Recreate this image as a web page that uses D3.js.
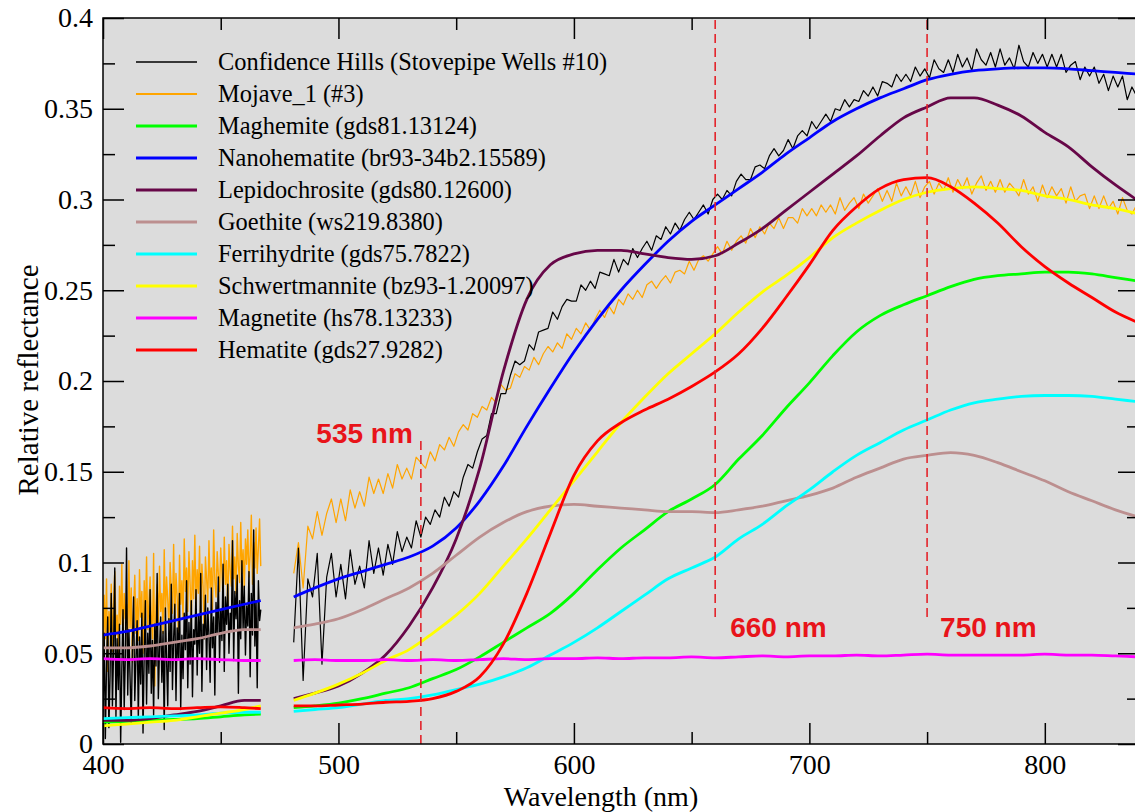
<!DOCTYPE html>
<html lang="en">
<head>
<meta charset="UTF-8">
<title>Relative reflectance</title>
<script src="https://d3js.org/d3.v7.min.js"></script>
<style>
  body { margin: 0; background: #fff; }
  .tick line { stroke: #000; stroke-width: 1.5px; }
  .axis path.domain { display: none; }
</style>
</head>
<body>
<div id="chart"></div>
<script>
// wavelength grids (nm) -- the spectra have a gap between ~467 and ~481 nm
const wlLeft = [400, 410, 420, 430, 440, 450, 460, 467];
const wlRight = [481, 490, 500, 510, 520, 530, 540, 550, 560, 570, 580, 590, 600, 610, 620, 630,
  640, 650, 660, 670, 680, 690, 700, 710, 720, 730, 740, 750, 760, 770, 780, 790, 800, 810, 820, 830, 840];
const wlNoisyLeft = d3.range(400, 467.25, 0.5);  // 400..467 step 0.5
const wlNoisyRight = d3.range(481, 840, 2);      // 481..839 step 2

// field spectra (noisy)
const confidenceLeft = [
  .012,.061,.003,.044,.070,.009,.038,.083,.021,.052,
  .097,.015,.058,.030,.066,.001,.041,.074,.019,.049,
  .108,.027,.063,.036,.011,.055,.081,.024,.047,.068,
  .014,.059,.033,.072,.006,.050,.079,.022,.061,.039,
  .085,.028,.057,.016,.066,.043,.094,.025,.053,.070,
  .034,.062,.008,.075,.046,.021,.069,.040,.088,.030,
  .058,.077,.024,.064,.047,.083,.019,.060,.036,.072,
  .052,.090,.031,.067,.044,.079,.026,.063,.055,.085,
  .038,.071,.050,.094,.029,.066,.058,.082,.041,.075,
  .060,.034,.086,.053,.070,.027,.078,.061,.092,.045,
  .074,.057,.099,.040,.081,.066,.088,.050,.072,.062,
  .112,.046,.084,.069,.093,.028,.079,.058,.101,.063,
  .087,.049,.076,.065,.095,.037,.083,.060,.118,.054,
  .079,.031,.090,.068,.074];
const confidenceRight = [
  .056,.108,.035,.091,.081,.105,.044,.092,.105,.081,
  .099,.080,.107,.088,.098,.086,.112,.094,.108,.093,
  .110,.099,.117,.106,.114,.108,.123,.114,.125,.121,
  .129,.125,.136,.131,.139,.136,.147,.154,.152,.161,
  .168,.170,.182,.182,.193,.193,.203,.211,.209,.211,
  .220,.217,.227,.228,.229,.238,.234,.241,.245,.244,
  .244,.253,.250,.255,.251,.260,.259,.258,.267,.260,
  .267,.264,.273,.268,.273,.277,.272,.280,.278,.285,
  .281,.287,.283,.289,.293,.289,.293,.297,.292,.300,
  .303,.300,.305,.302,.310,.314,.311,.311,.318,.319,
  .317,.324,.328,.324,.327,.333,.328,.335,.338,.335,
  .343,.339,.343,.347,.343,.350,.349,.355,.351,.355,
  .354,.360,.357,.362,.357,.365,.364,.362,.369,.365,
  .369,.365,.373,.368,.372,.367,.377,.372,.370,.377,
  .370,.380,.373,.378,.371,.383,.377,.374,.381,.373,
  .383,.374,.378,.372,.385,.376,.373,.381,.375,.380,
  .373,.380,.373,.380,.370,.374,.376,.366,.373,.368,
  .373,.364,.369,.360,.368,.362,.368,.355,.362,.357];
const mojaveLeft = [
  .045,.082,.058,.091,.040,.073,.062,.088,.051,.079,
  .095,.060,.071,.048,.087,.066,.099,.055,.083,.069,
  .077,.052,.101,.064,.086,.045,.074,.093,.061,.080,
  .057,.096,.070,.084,.050,.090,.067,.103,.063,.078,
  .092,.071,.058,.105,.032,.076,.088,.066,.098,.073,
  .083,.061,.107,.070,.092,.079,.064,.100,.085,.072,
  .110,.068,.094,.081,.060,.104,.077,.090,.069,.113,
  .084,.097,.073,.106,.088,.066,.101,.080,.115,.076,
  .096,.083,.109,.071,.099,.087,.058,.103,.091,.078,
  .112,.086,.097,.074,.118,.090,.081,.106,.093,.084,
  .108,.095,.079,.114,.088,.101,.072,.110,.096,.087,
  .120,.091,.103,.083,.116,.098,.089,.122,.094,.107,
  .085,.113,.099,.118,.092,.104,.126,.088,.111,.097,
  .119,.094,.108,.124,.098];
const mojaveRight = [
  .094,.111,.086,.120,.113,.128,.115,.127,.135,.122,
  .135,.123,.140,.130,.139,.131,.147,.138,.146,.138,
  .149,.141,.154,.146,.152,.146,.158,.155,.152,.161,
  .156,.165,.162,.169,.164,.172,.176,.173,.182,.180,
  .186,.184,.191,.188,.198,.195,.196,.204,.202,.208,
  .206,.213,.209,.215,.219,.216,.221,.218,.226,.223,
  .229,.226,.232,.228,.234,.239,.235,.241,.237,.245,
  .242,.248,.245,.250,.246,.253,.255,.251,.255,.258,
  .254,.260,.261,.259,.266,.261,.267,.269,.266,.270,
  .274,.270,.277,.272,.277,.280,.276,.284,.279,.285,
  .281,.287,.284,.290,.284,.290,.290,.287,.295,.291,
  .295,.291,.297,.293,.297,.292,.301,.294,.298,.301,
  .295,.303,.298,.302,.306,.299,.305,.299,.309,.302,
  .307,.302,.310,.301,.307,.310,.303,.309,.305,.312,
  .304,.311,.306,.312,.303,.309,.313,.305,.310,.304,
  .311,.304,.309,.306,.302,.311,.303,.307,.299,.308,
  .301,.307,.302,.306,.298,.307,.299,.302,.303,.295,
  .302,.295,.302,.295,.299,.292,.301,.294,.292,.297];

// library spectra (smooth)
const maghemiteLeft = [.012,.0125,.013,.0135,.014,.015,.016,.0165];
const maghemiteRight = [.020,.021,.0225,.025,.028,.031,.036,.041,.048,.056,.064,.072,.083,.096,.108,.118,
  .128,.135,.143,.157,.170,.185,.199,.214,.227,.236,.242,.247,.252,.256,.258,.259,.260,.260,.259,.257,.255];
const nanohematiteLeft = [.060,.062,.065,.068,.071,.074,.077,.079];
const nanohematiteRight = [.081,.086,.091,.095,.099,.103,.109,.119,.134,.153,.175,.196,.216,.234,.250,.264,
  .277,.288,.297,.306,.315,.325,.334,.343,.350,.356,.361,.366,.369,.371,.372,.3725,.3725,.372,.371,.370,.369];
const lepidocrociteLeft = [.013,.013,.014,.016,.018,.021,.024,.024];
const lepidocrociteRight = [.025,.028,.032,.039,.049,.065,.086,.113,.152,.205,.245,.264,.270,.272,.272,.270,
  .268,.267,.269,.276,.284,.294,.304,.314,.324,.335,.345,.351,.356,.356,.352,.346,.337,.329,.318,.308,.299];
const goethiteLeft = [.053,.053,.054,.056,.058,.061,.063,.063];
const goethiteRight = [.064,.066,.069,.074,.080,.086,.094,.104,.114,.122,.128,.131,.132,.131,.130,.129,
  .128,.128,.1275,.129,.131,.134,.137,.141,.147,.152,.157,.159,.1605,.159,.155,.150,.145,.139,.134,.129,.125];
const ferrihydriteLeft = [.014,.0145,.015,.0155,.016,.017,.0175,.0175];
const ferrihydriteRight = [.018,.019,.020,.022,.024,.025,.027,.030,.033,.037,.042,.049,.056,.064,.073,.082,
  .091,.097,.103,.113,.121,.131,.140,.150,.159,.166,.173,.1785,.184,.188,.190,.1915,.192,.192,.1915,.190,.1885];
const schwertmanniteLeft = [.010,.011,.012,.013,.015,.017,.019,.021];
const schwertmanniteRight = [.024,.028,.033,.039,.046,.052,.061,.071,.083,.098,.113,.129,.145,.161,.177,.191,
  .204,.215,.226,.238,.249,.258,.268,.279,.287,.294,.300,.304,.306,.307,.306,.305,.302,.300,.297,.295,.292];
const magnetiteLeft = [.047,.0465,.047,.0465,.047,.0465,.046,.046];
const magnetiteRight = [.046,.0465,.046,.046,.0465,.046,.0465,.046,.0465,.047,.0465,.047,.047,.0475,.047,.0475,
  .0475,.048,.0475,.048,.0485,.048,.0485,.0485,.049,.0485,.049,.0495,.049,.049,.049,.049,.0495,.049,.049,.0485,.048];
const hematiteLeft = [.020,.0195,.020,.0195,.020,.0205,.020,.0195];
const hematiteRight = [.021,.021,.0215,.022,.023,.0235,.025,.029,.037,.055,.083,.116,.148,.167,.177,.184,
  .190,.197,.205,.215,.229,.246,.264,.283,.296,.306,.311,.312,.307,.298,.287,.274,.263,.254,.246,.238,.232];

const seriesNames = [
  "Confidence Hills (Stovepipe Wells #10)", "Mojave_1 (#3)", "Maghemite (gds81.13124)",
  "Nanohematite (br93-34b2.15589)", "Lepidochrosite (gds80.12600)", "Goethite (ws219.8380)",
  "Ferrihydrite (gds75.7822)", "Schwertmannite (bz93-1.20097)", "Magnetite (hs78.13233)",
  "Hematite (gds27.9282)"];
const seriesColors = ["#000000", "#ffa500", "#00ff00", "#0000ff", "#670748", "#bc8f8f",
  "#00ffff", "#ffff00", "#ff00ff", "#ff0000"];

const yTicks = [0, 0.05, 0.1, 0.15, 0.2, 0.25, 0.3, 0.35, 0.4];
const yTickLabels = ["0", "0.05", "0.1", "0.15", "0.2", "0.25", "0.3", "0.35", "0.4"];
const yMinorTicks = [0.025, 0.075, 0.125, 0.175, 0.225, 0.275, 0.325, 0.375];
const xTicks = [400, 500, 600, 700, 800];
const xMinorTicks = [450, 550, 650, 750];

const markerNm = [535, 660, 750];
const markerLabels = ["535 nm", "660 nm", "750 nm"];

// ---- layout
const width = 1135, height = 812;
const plot = { left: 103, top: 18, right: 1139, bottom: 744 };
const serif = '"Liberation Serif", "DejaVu Serif", "Times New Roman", serif';
const sans = '"Liberation Sans", Arial, "DejaVu Sans", sans-serif';

const svg = d3.select("#chart").append("svg")
  .attr("width", width).attr("height", height);

const x = d3.scaleLinear().domain([400, 840]).range([plot.left, plot.right]);
const y = d3.scaleLinear().domain([0, 0.4]).range([plot.bottom, plot.top]);

svg.append("defs").append("clipPath").attr("id", "clip")
  .append("rect")
  .attr("x", plot.left).attr("y", plot.top)
  .attr("width", plot.right - plot.left).attr("height", plot.bottom - plot.top);

svg.append("rect")
  .attr("x", plot.left).attr("y", plot.top)
  .attr("width", plot.right - plot.left).attr("height", plot.bottom - plot.top)
  .attr("fill", "#dcdcdc");

const series = [
  { segs: [[wlNoisyLeft, confidenceLeft, 1.4], [wlNoisyRight, confidenceRight, 1.2]], smooth: false },
  { segs: [[wlNoisyLeft, mojaveLeft, 1.4], [wlNoisyRight, mojaveRight, 1.2]], smooth: false },
  { segs: [[wlLeft, maghemiteLeft, 2.8], [wlRight, maghemiteRight, 2.8]], smooth: true },
  { segs: [[wlLeft, nanohematiteLeft, 2.8], [wlRight, nanohematiteRight, 2.8]], smooth: true },
  { segs: [[wlLeft, lepidocrociteLeft, 2.8], [wlRight, lepidocrociteRight, 2.8]], smooth: true },
  { segs: [[wlLeft, goethiteLeft, 2.8], [wlRight, goethiteRight, 2.8]], smooth: true },
  { segs: [[wlLeft, ferrihydriteLeft, 2.8], [wlRight, ferrihydriteRight, 2.8]], smooth: true },
  { segs: [[wlLeft, schwertmanniteLeft, 2.8], [wlRight, schwertmanniteRight, 2.8]], smooth: true },
  { segs: [[wlLeft, magnetiteLeft, 2.8], [wlRight, magnetiteRight, 2.8]], smooth: true },
  { segs: [[wlLeft, hematiteLeft, 2.8], [wlRight, hematiteRight, 2.8]], smooth: true }
];
series.forEach((s, i) => { s.name = seriesNames[i]; s.color = seriesColors[i]; });

const lineSmooth = d3.line().x(d => x(d[0])).y(d => y(d[1])).curve(d3.curveMonotoneX);
const lineRaw = d3.line().x(d => x(d[0])).y(d => y(d[1]));

const dataG = svg.append("g").attr("clip-path", "url(#clip)");
// orange goes under black
[1, 0, 2, 3, 4, 5, 6, 7, 8, 9].forEach(i => {
  const s = series[i];
  s.segs.forEach(([wl, vals, w]) => {
    const pts = wl.map((v, k) => [v, vals[k]]);
    dataG.append("path")
      .attr("d", (s.smooth ? lineSmooth : lineRaw)(pts))
      .attr("fill", "none")
      .attr("stroke", s.color)
      .attr("stroke-width", w)
      .attr("stroke-linejoin", "round");
  });
});

// dashed markers
const markerSpan = [[0, 0.169], [0.07, 0.4], [0.07, 0.4]];
markerNm.forEach((nm, i) => {
  svg.append("line")
    .attr("x1", x(nm)).attr("x2", x(nm))
    .attr("y1", y(markerSpan[i][0])).attr("y2", y(markerSpan[i][1]))
    .attr("stroke", "#e3242b").attr("stroke-width", 1.6)
    .attr("stroke-dasharray", "9,5");
});
const markerLabelPos = [
  { dx: -8, yv: 0.166, anchor: "end" },
  { dx: 15, yv: 0.059, anchor: "start" },
  { dx: 13, yv: 0.059, anchor: "start" }];
markerLabels.forEach((t, i) => {
  svg.append("text")
    .attr("x", x(markerNm[i]) + markerLabelPos[i].dx)
    .attr("y", y(markerLabelPos[i].yv))
    .attr("text-anchor", markerLabelPos[i].anchor)
    .style("font-family", sans)
    .style("font-weight", "bold")
    .style("font-size", "28px")
    .style("fill", "#e8141a")
    .text(t);
});

// axes
const fmt = d => yTickLabels[yTicks.indexOf(d)];
function styleText(sel) {
  sel.selectAll("text").style("font-family", serif).style("font-size", "28px").style("fill", "#000");
}
svg.append("g").attr("class", "axis")
  .attr("transform", `translate(${plot.left},0)`)
  .call(d3.axisLeft(y).tickValues(yTicks).tickFormat(fmt).tickSizeInner(-21).tickSizeOuter(0).tickPadding(10))
  .call(styleText);
svg.append("g").attr("class", "axis")
  .attr("transform", `translate(${plot.left},0)`)
  .call(d3.axisLeft(y).tickValues(yMinorTicks).tickFormat("").tickSizeInner(-12).tickSizeOuter(0));
svg.append("g").attr("class", "axis")
  .attr("transform", `translate(${plot.right},0)`)
  .call(d3.axisLeft(y).tickValues(yTicks).tickFormat("").tickSizeInner(21).tickSizeOuter(0));
svg.append("g").attr("class", "axis")
  .attr("transform", `translate(${plot.right},0)`)
  .call(d3.axisLeft(y).tickValues(yMinorTicks).tickFormat("").tickSizeInner(12).tickSizeOuter(0));

svg.append("g").attr("class", "axis")
  .attr("transform", `translate(0,${plot.bottom})`)
  .call(d3.axisBottom(x).tickValues(xTicks).tickFormat(d3.format("d")).tickSizeInner(-21).tickSizeOuter(0).tickPadding(10))
  .call(styleText);
svg.append("g").attr("class", "axis")
  .attr("transform", `translate(0,${plot.bottom})`)
  .call(d3.axisBottom(x).tickValues(xMinorTicks).tickFormat("").tickSizeInner(-12).tickSizeOuter(0));
svg.append("g").attr("class", "axis")
  .attr("transform", `translate(0,${plot.top})`)
  .call(d3.axisTop(x).tickValues(xTicks).tickFormat("").tickSizeInner(-21).tickSizeOuter(0));
svg.append("g").attr("class", "axis")
  .attr("transform", `translate(0,${plot.top})`)
  .call(d3.axisTop(x).tickValues(xMinorTicks).tickFormat("").tickSizeInner(-12).tickSizeOuter(0));

svg.append("rect")
  .attr("x", plot.left).attr("y", plot.top)
  .attr("width", plot.right - plot.left).attr("height", plot.bottom - plot.top)
  .attr("fill", "none").attr("stroke", "#000").attr("stroke-width", 1.5);

// axis titles
svg.append("text")
  .attr("x", 601).attr("y", 806)
  .attr("text-anchor", "middle")
  .style("font-family", serif)
  .style("font-size", "28px")
  .text("Wavelength (nm)");
svg.append("text")
  .attr("transform", "translate(38,380) rotate(-90)")
  .attr("text-anchor", "middle")
  .style("font-family", serif)
  .style("font-size", "29px")
  .text("Relative reflectance");

// legend
const legendW = [1.5, 2, 3, 3, 3, 3, 3, 3, 3, 3];
const legend = svg.append("g").attr("transform", "translate(136,62)");
series.forEach((s, i) => {
  const row = legend.append("g").attr("transform", `translate(0,${i * 32})`);
  row.append("line")
    .attr("x1", 0).attr("x2", 61).attr("y1", 0).attr("y2", 0)
    .attr("stroke", s.color).attr("stroke-width", legendW[i]);
  row.append("text")
    .attr("x", 82).attr("y", 0).attr("dy", "0.33em")
    .style("font-family", serif)
    .style("font-size", "24.4px")
    .text(s.name);
});
</script>
</body>
</html>
